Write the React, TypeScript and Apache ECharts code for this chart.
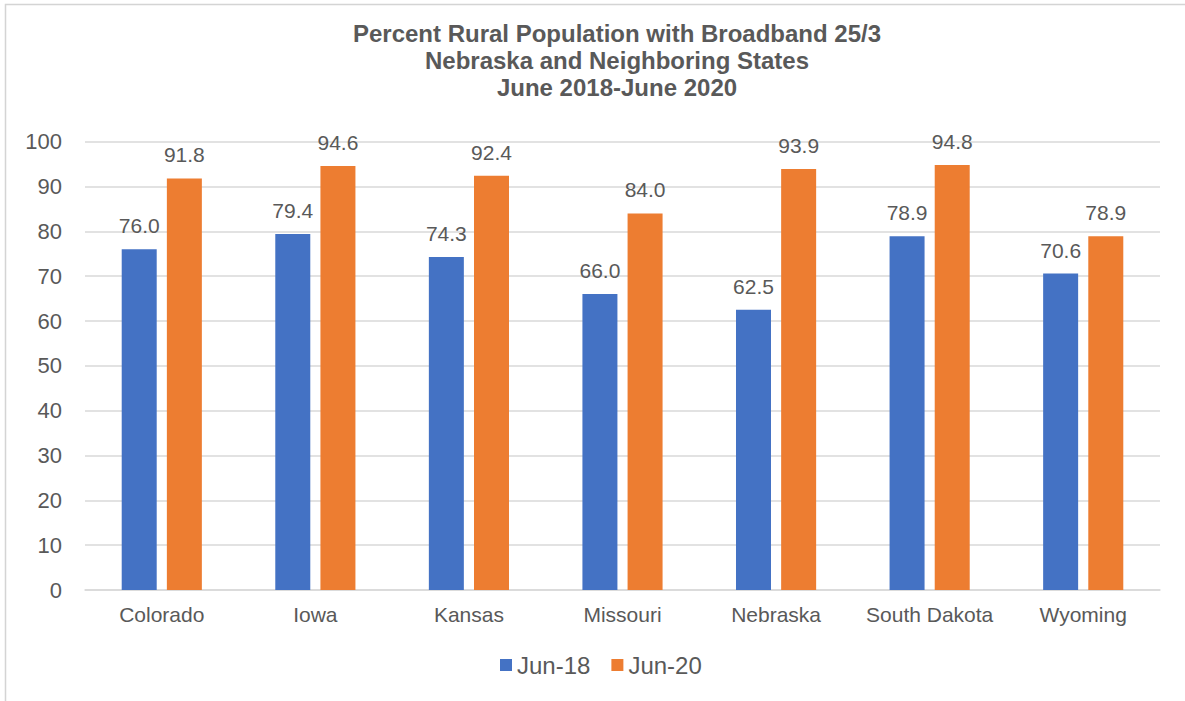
import React, { useEffect, useRef } from "react";
import * as echarts from "echarts";

const categories = ["Colorado", "Iowa", "Kansas", "Missouri", "Nebraska", "South Dakota", "Wyoming"];
const jun18 = [76.0, 79.4, 74.3, 66.0, 62.5, 78.9, 70.6];
const jun20 = [91.8, 94.6, 92.4, 84.0, 93.9, 94.8, 78.9];
const seriesNames = ["Jun-18", "Jun-20"];
const titleLines = [
  "Percent Rural Population with Broadband 25/3",
  "Nebraska and Neighboring States",
  "June 2018-June 2020",
];

const FONT = "'Liberation Sans', Arial, sans-serif";
const TXT = "#595959";

export default function App() {
  const ref = useRef<HTMLDivElement>(null);
  useEffect(() => {
    if (!ref.current) return;
    const chart = echarts.init(ref.current, null, { renderer: "svg" });
    const label = {
      show: true,
      position: "top",
      distance: 13,
      color: TXT,
      fontSize: 21,
      fontFamily: FONT,
      formatter: (p: any) => Number(p.value).toFixed(1),
    };
    chart.setOption({
      animation: false,
      backgroundColor: "#ffffff",
      textStyle: { fontFamily: FONT },
      title: {
        text: titleLines.join("\n"),
        left: 617,
        top: 20,
        padding: 0,
        textAlign: "center",
        textStyle: {
          fontFamily: FONT,
          fontWeight: "bold",
          fontSize: 24,
          lineHeight: 27,
          color: TXT,
        },
      },
      legend: {
        data: seriesNames,
        left: 500,
        top: 653,
        padding: 0,
        itemWidth: 12,
        itemHeight: 12,
        itemGap: 21,
        icon: "rect",
        textStyle: { fontFamily: FONT, fontSize: 24, color: TXT, lineHeight: 24 },
      },
      grid: { left: 85, right: 25, top: 141.7, bottom: 111, containLabel: false },
      xAxis: {
        type: "category",
        data: categories,
        axisLine: { lineStyle: { color: "#d9d9d9", width: 1.5 } },
        axisTick: { show: false },
        axisLabel: { color: TXT, fontSize: 21, fontFamily: FONT, margin: 14, interval: 0 },
      },
      yAxis: {
        type: "value",
        min: 0,
        max: 100,
        interval: 10,
        axisLine: { show: false },
        axisTick: { show: false },
        axisLabel: { color: TXT, fontSize: 22, fontFamily: FONT, margin: 23 },
        splitLine: { lineStyle: { color: "#d9d9d9", width: 1.5 } },
      },
      series: [
        {
          name: seriesNames[0],
          type: "bar",
          data: jun18,
          barWidth: 35,
          barGap: "29%",
          itemStyle: { color: "#4472C4" },
          label,
        },
        {
          name: seriesNames[1],
          type: "bar",
          data: jun20,
          barWidth: 35,
          itemStyle: { color: "#ED7D31" },
          label,
        },
      ],
      graphic: [
        {
          type: "polyline",
          shape: { points: [[5.5, 701], [5.5, 4.5], [1185, 4.5]] },
          style: { stroke: "#d4d4d4", lineWidth: 1.5, fill: null },
          silent: true,
        },
      ],
    });
    return () => chart.dispose();
  }, []);
  return (
    <div
      ref={ref}
      style={{ position: "fixed", left: 0, top: 0, width: 1185, height: 701 }}
    />
  );
}
